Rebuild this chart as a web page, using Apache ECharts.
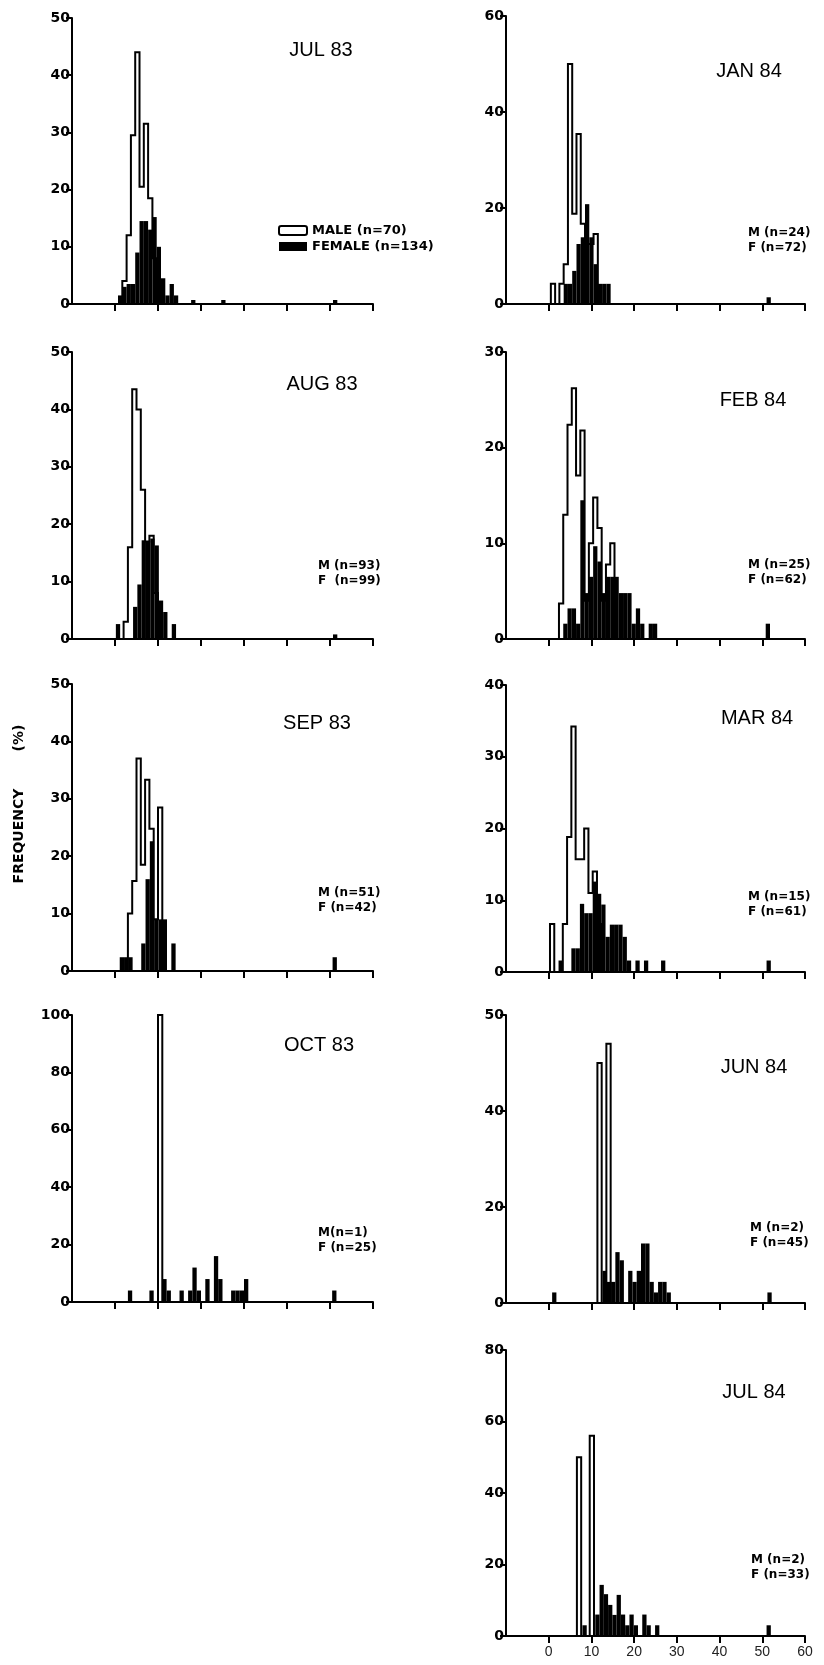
<!DOCTYPE html>
<html>
<head>
<meta charset="utf-8">
<title>Size frequency, Jul 83 - Jul 84</title>
<script src="https://cdn.jsdelivr.net/npm/echarts@6.0.0/dist/echarts.min.js"></script>
<style>
  html, body { margin: 0; padding: 0; background: #fff; }
  #histo { width: 824px; height: 1665px; }
</style>
</head>
<body>
<div id="histo"></div>
<script>
// each pair is [left edge of size class, percent]; classes are 1 unit wide
var sizeTicks = [0, 10, 20, 30, 40, 50, 60];

var jul83Male = [[1.7, 4], [2.7, 12], [3.7, 29.5], [4.7, 44], [5.7, 20.5], [6.7, 31.5], [7.7, 18.5], [8.7, 8]];
var jul83Female = [[0.7, 1.5], [1.7, 3], [2.7, 3.5], [3.7, 3.5], [4.7, 9], [5.7, 14.5], [6.7, 14.5], [7.7, 13],
  [8.7, 15.2], [9.7, 10], [10.7, 4.5], [11.7, 1.5], [12.7, 3.5], [13.7, 1.5], [17.7, 0.7], [24.7, 0.7], [50.7, 0.7]];

var aug83Male = [[2, 3], [3, 16], [4, 43.5], [5, 40], [6, 26], [7, 17], [8, 18], [9, 8]];
var aug83Female = [[0.2, 2.6], [4.2, 5.6], [5.2, 9.5], [6.2, 17.2], [7.2, 17], [8.2, 17.5], [9.2, 16.3],
  [10.2, 6.7], [11.2, 4.7], [13.2, 2.6], [50.7, 0.8]];

var sep83Male = [[3, 10], [4, 15.7], [5, 37], [6, 18.5], [7, 33.3], [8, 24.8], [9, 9], [10, 28.5]];
var sep83Female = [[1.1, 2.4], [2.1, 2.4], [3.1, 2.4], [6.1, 4.8], [7.1, 16], [8.1, 22.6], [9.1, 9],
  [10.1, 9], [11.1, 9], [13.1, 4.8], [50.6, 2.4]];

var oct83Male = [[10, 100]];
var oct83Female = [[3, 4], [8, 4], [11, 8], [12, 4], [15, 4], [17, 4], [18, 12], [19, 4], [21, 8],
  [23, 16], [24, 8], [27, 4], [28, 4], [29, 4], [30, 8], [50.5, 4]];

var jan84Male = [[0.5, 4.2], [2.5, 4.2], [3.5, 8.3], [4.5, 50], [5.5, 18.8], [6.5, 35.4], [7.5, 16.7],
  [8.5, 12.5], [9.5, 12.5], [10.5, 14.6]];
var jan84Female = [[3.5, 4.2], [4.5, 4.2], [5.5, 6.9], [6.5, 12.5], [7.5, 13.9], [8.5, 20.8], [9.5, 13.9],
  [10.5, 8.3], [11.5, 4.2], [12.5, 4.2], [13.5, 4.2], [51, 1.4]];

var feb84Male = [[2.4, 3.7], [3.4, 13], [4.4, 22.4], [5.4, 26.2], [6.4, 17.1], [7.4, 21.8], [8.4, 4],
  [9.4, 10], [10.4, 14.8], [11.4, 11.6], [12.4, 4], [13.4, 7.8], [14.4, 10]];
var feb84Female = [[3.4, 1.6], [4.4, 3.2], [5.4, 3.2], [6.4, 1.6], [7.4, 14.5], [8.4, 4.8], [9.4, 6.5],
  [10.4, 9.7], [11.4, 8.1], [12.4, 4.8], [13.4, 6.5], [14.4, 6.5], [15.4, 6.5], [16.4, 4.8], [17.4, 4.8],
  [18.4, 4.8], [19.4, 1.6], [20.4, 3.2], [21.4, 1.6], [23.4, 1.6], [24.4, 1.6], [50.8, 1.6]];

var mar84Male = [[0.3, 6.7], [3.3, 6.7], [4.3, 18.8], [5.3, 34.2], [6.3, 15.7], [7.3, 15.7], [8.3, 20],
  [9.3, 11], [10.3, 14], [11.3, 6.7]];
var mar84Female = [[2.3, 1.6], [5.3, 3.3], [6.3, 3.3], [7.3, 9.5], [8.3, 8.2], [9.3, 8.2], [10.3, 12.6],
  [11.3, 10.9], [12.3, 9.4], [13.3, 4.9], [14.3, 6.6], [15.3, 6.6], [16.3, 6.6], [17.3, 4.9], [18.3, 1.6],
  [20.3, 1.6], [22.3, 1.6], [26.3, 1.6], [51, 1.6]];

var jun84Male = [[11.4, 50], [13.5, 54]];
var jun84Female = [[0.8, 2.2], [12.6, 6.7], [13.6, 4.4], [14.6, 4.4], [15.6, 10.6], [16.6, 8.9], [18.6, 6.7],
  [19.6, 4.4], [20.6, 6.7], [21.6, 12.4], [22.6, 12.4], [23.6, 4.4], [24.6, 2.2], [25.6, 4.4], [26.6, 4.4],
  [27.6, 2.2], [51.2, 2.2]];

var jul84Male = [[6.6, 50], [9.6, 56]];
var jul84Female = [[7.9, 3], [10.9, 6], [11.9, 14.3], [12.9, 11.7], [13.9, 8.7], [14.9, 5.9], [15.9, 11.5],
  [16.9, 6], [17.9, 3], [18.9, 6], [19.9, 3], [21.9, 6], [22.9, 3], [24.9, 3], [51, 3]];

var panels = [
  {title: 'JUL 83', male: jul83Male, female: jul83Female, yMax: 50, yStep: 10, col: 0, top: 18, height: 286, titleAt: [321, 50]},
  {title: 'AUG 83', male: aug83Male, female: aug83Female, yMax: 50, yStep: 10, col: 0, top: 352, height: 287, titleAt: [322, 384],
    note: 'M (n=93)\nF  (n=99)', noteAt: [318, 573]},
  {title: 'SEP 83', male: sep83Male, female: sep83Female, yMax: 50, yStep: 10, col: 0, top: 684, height: 287, titleAt: [317, 723],
    note: 'M (n=51)\nF (n=42)', noteAt: [318, 900]},
  {title: 'OCT 83', male: oct83Male, female: oct83Female, yMax: 100, yStep: 20, col: 0, top: 1015, height: 287, titleAt: [319, 1045],
    note: 'M(n=1)\nF (n=25)', noteAt: [318, 1240]},
  {title: 'JAN 84', male: jan84Male, female: jan84Female, yMax: 60, yStep: 20, col: 1, top: 16, height: 288, titleAt: [749, 71],
    note: 'M (n=24)\nF (n=72)', noteAt: [748, 240]},
  {title: 'FEB 84', male: feb84Male, female: feb84Female, yMax: 30, yStep: 10, col: 1, top: 352, height: 287, titleAt: [753, 400],
    note: 'M (n=25)\nF (n=62)', noteAt: [748, 572]},
  {title: 'MAR 84', male: mar84Male, female: mar84Female, yMax: 40, yStep: 10, col: 1, top: 685, height: 287, titleAt: [757, 718],
    note: 'M (n=15)\nF (n=61)', noteAt: [748, 904]},
  {title: 'JUN 84', male: jun84Male, female: jun84Female, yMax: 60, yStep: 20, col: 1, top: 1015, height: 288, titleAt: [754, 1067],
    note: 'M (n=2)\nF (n=45)', noteAt: [750, 1235]},
  {title: 'JUL 84', male: jul84Male, female: jul84Female, yMax: 80, yStep: 20, col: 1, top: 1350, height: 286, titleAt: [754, 1392],
    note: 'M (n=2)\nF (n=33)', noteAt: [751, 1567], xLabels: true}
];
var colLeft = [72, 506];
var colWidth = [301, 299];

// split male classes into contiguous runs, then trace each run as a step outline
function maleRuns(pairs) {
  var runs = [], cur = null;
  pairs.forEach(function (p) {
    if (!cur || Math.abs(p[0] - (cur[cur.length - 1][0] + 1)) > 0.05) {
      cur = [];
      runs.push(cur);
    }
    cur.push(p);
  });
  return runs.map(function (run) {
    var pts = [[run[0][0], 0]];
    run.forEach(function (p) {
      pts.push([p[0], p[1]], [p[0] + 1, p[1]]);
    });
    pts.push([run[run.length - 1][0] + 1, 0]);
    return pts;
  });
}

function femaleBar(params, api) {
  var x = api.value(0), h = api.value(1);
  var a = api.coord([x, h]);
  var b = api.coord([x + 1, 0]);
  return {
    type: 'rect',
    shape: {x: a[0], y: a[1], width: b[0] - a[0], height: b[1] - a[1]},
    style: {fill: '#000'}
  };
}

var labelFont = {fontFamily: 'DejaVu Sans', fontWeight: 'bold', fontSize: 14, color: '#000'};

var grids = [], xAxes = [], yAxes = [], series = [], graphics = [];

panels.forEach(function (p, i) {
  grids.push({left: colLeft[p.col], top: p.top, width: colWidth[p.col], height: p.height,
    containLabel: false, outerBoundsMode: 'none'});
  xAxes.push({
    type: 'value', gridIndex: i, min: -10, max: 60, interval: 10,
    axisLine: {show: true, onZero: false, lineStyle: {color: '#000', width: 2}},
    axisTick: {show: true, length: 7, lineStyle: {color: '#000', width: 2}, customValues: sizeTicks},
    axisLabel: {show: !!p.xLabels, customValues: sizeTicks, margin: 9,
      fontFamily: 'Liberation Sans', fontSize: 14, color: '#222'},
    splitLine: {show: false}
  });
  yAxes.push({
    type: 'value', gridIndex: i, min: 0, max: p.yMax, interval: p.yStep,
    axisLine: {show: true, onZero: false, lineStyle: {color: '#000', width: 2}},
    axisTick: {show: true, length: 6, lineStyle: {color: '#000', width: 2}},
    axisLabel: Object.assign({margin: 2, formatter: function (v) {
      // the reference prints the top tick of JUN 84 as "50"
      return (p.title === 'JUN 84' && v === 60) ? '50' : String(v);
    }}, labelFont),
    splitLine: {show: false}
  });

  series.push({
    type: 'custom', name: i === 0 ? 'FEMALE (n=134)' : 'F ' + p.title,
    xAxisIndex: i, yAxisIndex: i, data: p.female, renderItem: femaleBar,
    itemStyle: {color: '#000'}, z: 2, silent: true
  });
  maleRuns(p.male).forEach(function (pts, r) {
    series.push({
      type: 'line', name: (i === 0 && r === 0) ? 'MALE (n=70)' : 'M ' + p.title + ' ' + r,
      xAxisIndex: i, yAxisIndex: i, data: pts, symbol: 'none', z: 3, silent: true,
      lineStyle: {color: '#000', width: 2, join: 'miter'},
      itemStyle: {color: '#fff', borderColor: '#000', borderWidth: 2}
    });
  });

  graphics.push({
    type: 'text', x: p.titleAt[0], y: p.titleAt[1], silent: true,
    style: {text: p.title, fill: '#000', fontFamily: 'Liberation Sans', fontSize: 20,
      align: 'center', verticalAlign: 'middle'}
  });
  if (p.note) {
    graphics.push({
      type: 'text', x: p.noteAt[0], y: p.noteAt[1], silent: true,
      style: {text: p.note, fill: '#000', fontFamily: 'DejaVu Sans', fontWeight: 'bold', fontSize: 12,
        lineHeight: 15, align: 'left', verticalAlign: 'middle'}
    });
  }
});

graphics.push({
  type: 'text', x: 19, y: 836, rotation: Math.PI / 2, silent: true,
  style: {text: 'FREQUENCY', fill: '#000', fontFamily: 'DejaVu Sans', fontWeight: 'bold', fontSize: 14,
    align: 'center', verticalAlign: 'middle'}
});
graphics.push({
  type: 'text', x: 19, y: 738, rotation: Math.PI / 2, silent: true,
  style: {text: '(%)', fill: '#000', fontFamily: 'DejaVu Sans', fontWeight: 'bold', fontSize: 14,
    align: 'center', verticalAlign: 'middle'}
});

var chart = echarts.init(document.getElementById('histo'));
chart.setOption({
  animation: false,
  backgroundColor: '#fff',
  legend: {
    left: 273, top: 219, orient: 'vertical', selectedMode: false,
    itemWidth: 28, itemHeight: 9, itemGap: 3,
    textStyle: {fontFamily: 'DejaVu Sans', fontWeight: 'bold', fontSize: 13, lineHeight: 11, color: '#000'},
    data: [
      {name: 'MALE (n=70)', icon: 'roundRect', itemStyle: {color: '#fff', borderColor: '#000', borderWidth: 2}},
      {name: 'FEMALE (n=134)', icon: 'rect', itemStyle: {color: '#000', borderWidth: 0}}
    ]
  },
  grid: grids,
  xAxis: xAxes,
  yAxis: yAxes,
  series: series,
  graphic: graphics
});
</script>
</body>
</html>
